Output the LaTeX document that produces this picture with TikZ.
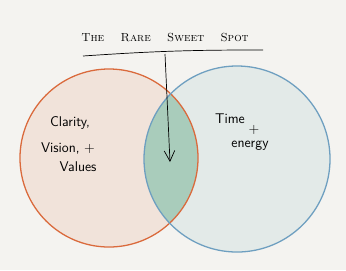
\documentclass[tikz,border=0pt]{standalone}
\usepackage{xcolor}
\usepackage{tikz}
\usetikzlibrary{positioning,arrows.meta}

\definecolor{paper}{HTML}{F4F3F0}
\definecolor{clarityfill}{HTML}{F1E3DA}
\definecolor{claritystroke}{HTML}{DA6A3C}
\definecolor{timefill}{HTML}{E3EAE8}
\definecolor{timestroke}{HTML}{6E9FC0}
\definecolor{sweetfill}{HTML}{A9CCBB}

\begin{document}
\begin{tikzpicture}[
    x=0.03cm, y=-0.03cm,
    ring/.style={circle,inner sep=0pt,line width=1.1pt},
    hand/.style={inner sep=1pt,font=\sffamily\large},
    title/.style={inner sep=1pt,font=\normalsize\scshape}
]
\useasboundingbox[fill=paper] (0,0) rectangle (346,270);

% the two circles
\node[ring,minimum size=5.34cm,fill=clarityfill] (clarity) at (109,158) {};
\node[ring,minimum size=5.58cm,fill=timefill] (time) at (237,159) {};
\begin{scope}
  \clip (109,158) circle [radius=2.67cm];
  \fill[sweetfill] (237,159) circle [radius=2.79cm];
\end{scope}
\draw[claritystroke,line width=1.1pt] (clarity.center) circle [radius=2.67cm];
\draw[timestroke,line width=1.1pt] (time.center) circle [radius=2.79cm];

% title and pointer
\node[title] (head) at (165,37) {The\hspace{1.4em}Rare\hspace{1.4em}Sweet\hspace{1.4em}Spot};
\coordinate (lineL) at (83,56);
\coordinate (lineR) at (263,50);
\coordinate (pin) at (165,54);
\coordinate (spot) at (170,162);
\draw[line width=0.6pt] (lineL) to[bend left=2] (lineR);
\draw[line width=0.6pt,-{Straight Barb[length=9pt,width=9pt]}] (pin) -- (spot);

% labels
\node[hand] (clar) at (70,123) {Clarity,};
\node[hand] (vis) at (68,148) {Vision, +};
\node[hand] (val) at (78,167) {Values};
\node[hand] (tm) at (230,119) {Time};
\node[hand] (plus) at (254,130) {+};
\node[hand] (en) at (250,146) {energy};
\end{tikzpicture}
\end{document}
